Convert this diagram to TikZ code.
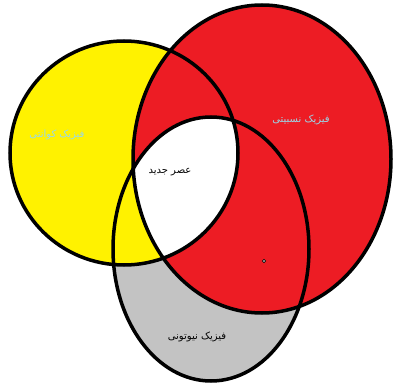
\documentclass[tikz,border=0pt]{standalone}
\usepackage{fontspec}
\newfontfamily\farsi[Script=Arabic]{DejaVu Sans}
\TeXXeTstate=1
\definecolor{paintyellow}{RGB}{255,242,0}
\definecolor{paintred}{RGB}{237,28,36}
\definecolor{paintgray}{RGB}{195,195,195}
\definecolor{paintblue}{RGB}{153,217,234}
\tikzset{
    rim/.style={draw=black, line width=3.5pt},
    lbl/.style={font=\farsi\fontsize{10}{11}\selectfont, inner sep=0pt}
}

\begin{document}
\begin{tikzpicture}[x=1pt, y=-1pt]
    \useasboundingbox (0,0) rectangle (394,385);
    % fills
    \fill[paintgray] (211,249) ellipse (98 and 132);
    \fill[paintyellow] (124,153) ellipse (114 and 112);
    \fill[paintred] (262,159) ellipse (129 and 154);
    \begin{scope}
        \clip (211,249) ellipse (98 and 132);
        \clip (124,153) ellipse (114 and 112);
        \fill[white] (262,159) ellipse (129 and 154);
    \end{scope}
    % outlines
    \draw[rim] (124,153) ellipse (114 and 112);
    \draw[rim] (262,159) ellipse (129 and 154);
    \draw[rim] (211,249) ellipse (98 and 132);
    % labels
    \node[lbl, text=paintblue] (quantum) at (57,135) {\beginR فیزیک کوانتی\endR};
    \node[lbl, text=paintblue] (relativ) at (301,120) {\beginR فیزیک نسبیتی\endR};
    \node[lbl] (modern) at (170,172) {\beginR عصر جدید\endR};
    \node[lbl] (newton) at (197,337) {\beginR فیزیک نیوتونی\endR};
    \filldraw[fill=white, draw=black, line width=0.8pt] (264,261) circle (1.6);
\end{tikzpicture}
\end{document}
